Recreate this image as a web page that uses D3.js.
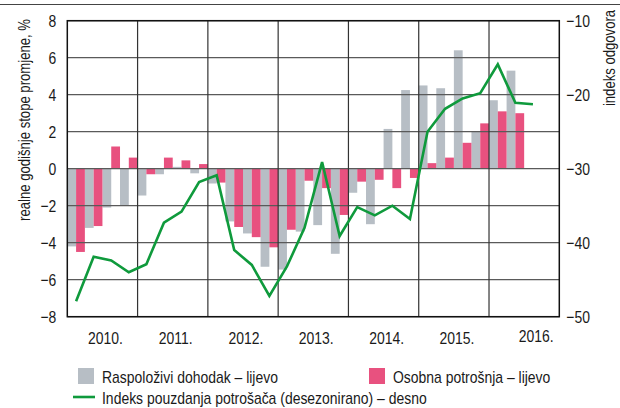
<!DOCTYPE html>
<html>
<head>
<meta charset="utf-8">
<script src="https://cdn.jsdelivr.net/npm/d3@7"></script>
<style>
  body { margin: 0; background: #fff; }
  text { font-family: "Liberation Sans Narrow", "Arial Narrow", "Liberation Sans", Arial, sans-serif; fill: #1a1a1a; }
</style>
</head>
<body>
<div id="chart"></div>
<script>
// quarterly data, 2010 Q1 onwards
const years = ["2010.", "2011.", "2012.", "2013.", "2014.", "2015.", "2016."];

// Raspoloživi dohodak (left axis), 2010 Q1 - 2016 Q2
const income = [
  -4.2, -3.2, -2.1, -2.0,
  -1.45, -0.3, 0.1, -0.25,
  -0.8, -2.85, -3.5, -5.3,
  -5.45, -3.4, -3.05, -4.6,
  -1.3, -3.0, 2.15, 4.25,
  4.5, 4.35, 6.4, 2.0,
  3.7, 5.3
];

// Osobna potrošnja (left axis), 2010 Q1 - 2016 Q2
const consumption = [
  -4.5, -3.1, 1.2, 0.6,
  -0.3, 0.6, 0.45, 0.25,
  -0.75, -3.15, -3.7, -4.25,
  -3.3, -0.65, -1.05, -2.5,
  -0.7, -0.6, -1.05, -0.5,
  0.3, 0.6, 1.4, 2.45,
  3.1, 3.0
];

// Indeks pouzdanja potrošača (right axis), 2010 Q1 - 2016 Q3
const confidence = [
  -47.9, -41.9, -42.4, -44.0,
  -42.9, -37.3, -35.8, -31.8,
  -30.9, -41.0, -43.0, -47.2,
  -43.2, -38.0, -29.1, -39.1,
  -35.2, -36.3, -35.0, -36.8,
  -25.0, -21.9, -20.5, -19.8,
  -15.9, -21.1, -21.3
];

const leftTicks = [8, 6, 4, 2, 0, -2, -4, -6, -8];
const rightTicks = [-10, -20, -30, -40, -50];

// SVG definitions
const margin = {top: 20.7, right: 60.7, bottom: 91.3, left: 67.3};
const width = 620 - margin.left - margin.right;
const height = 408 - margin.top - margin.bottom;

const grey = "#b7bec5";
const pink = "#e8517f";
const green = "#0f9a3c";

const svg = d3.select("#chart").append("svg")
  .attr("width", 620)
  .attr("height", 408);

// thin rule along the top of the figure
svg.append("line")
  .attr("x1", 0).attr("x2", 620)
  .attr("y1", 4.5).attr("y2", 4.5)
  .attr("stroke", "#444")
  .attr("stroke-width", 1.2);

const g = svg.append("g")
  .attr("transform", `translate(${margin.left}, ${margin.top})`);

// scales: x runs over quarter index
const xScale = d3.scaleLinear()
  .domain([0, years.length * 4])
  .range([0, width]);

const yLeft = d3.scaleLinear()
  .domain([-8, 8])
  .range([height, 0]);

const yRight = d3.scaleLinear()
  .domain([-50, -10])
  .range([height, 0]);

const half = xScale(0.5) - xScale(0);

// bars: grey on the first half of the quarter, pink on the second half
g.selectAll(".bar-income")
  .data(income)
  .join("rect")
  .attr("class", "bar-income")
  .attr("x", (d, i) => xScale(i))
  .attr("width", half)
  .attr("y", d => yLeft(Math.max(0, d)))
  .attr("height", d => Math.abs(yLeft(d) - yLeft(0)))
  .attr("fill", grey);

g.selectAll(".bar-cons")
  .data(consumption)
  .join("rect")
  .attr("class", "bar-cons")
  .attr("x", (d, i) => xScale(i + 0.5))
  .attr("width", half)
  .attr("y", d => yLeft(Math.max(0, d)))
  .attr("height", d => Math.abs(yLeft(d) - yLeft(0)))
  .attr("fill", pink);

// horizontal gridlines
g.selectAll(".hgrid")
  .data(leftTicks)
  .join("line")
  .attr("class", "hgrid")
  .attr("x1", 0).attr("x2", width)
  .attr("y1", d => yLeft(d)).attr("y2", d => yLeft(d))
  .attr("stroke", "#5a5a5a")
  .attr("stroke-width", 1.3);

// vertical year separators
g.selectAll(".vgrid")
  .data(d3.range(1, years.length))
  .join("line")
  .attr("class", "vgrid")
  .attr("x1", d => xScale(d * 4)).attr("x2", d => xScale(d * 4))
  .attr("y1", 0).attr("y2", height)
  .attr("stroke", "#333")
  .attr("stroke-width", 1.2);

// confidence index line, points in the middle of each quarter
const line = d3.line()
  .x((d, i) => xScale(i + 0.5))
  .y(d => yRight(d));

g.append("path")
  .datum(confidence)
  .attr("fill", "none")
  .attr("stroke", green)
  .attr("stroke-width", 2.6)
  .attr("stroke-linejoin", "miter")
  .attr("d", line);

// frame
g.append("rect")
  .attr("width", width)
  .attr("height", height)
  .attr("fill", "none")
  .attr("stroke", "#111")
  .attr("stroke-width", 1.5);

// left axis labels
const fmt = d3.format("d");
g.selectAll(".ltick")
  .data(leftTicks)
  .join("text")
  .attr("class", "ltick squeeze")
  .attr("x", -11)
  .attr("y", d => yLeft(d))
  .attr("dy", "0.36em")
  .attr("text-anchor", "end")
  .attr("font-size", "17px")
  .text(d => fmt(d));

// right axis labels
g.selectAll(".rtick")
  .data(rightTicks)
  .join("text")
  .attr("class", "rtick squeeze")
  .attr("x", width + 7)
  .attr("y", d => yRight(d))
  .attr("dy", "0.36em")
  .attr("text-anchor", "start")
  .attr("font-size", "17px")
  .text(d => fmt(d));

// year labels under each year
g.selectAll(".year")
  .data(years)
  .join("text")
  .attr("class", "year squeeze")
  .attr("x", (d, i) => xScale(i * 4 + 2) + (i === years.length - 1 ? 12 : 3))
  .attr("y", (d, i) => height + (i === years.length - 1 ? 25 : 27))
  .attr("text-anchor", "middle")
  .attr("font-size", "17px")
  .text(d => d);

// axis titles (rotated, narrowed with a scale on the transform)
svg.append("text")
  .attr("transform", "translate(30, 120) rotate(-90) scale(0.82, 1)")
  .attr("text-anchor", "middle")
  .attr("font-size", "16px")
  .text("realne godišnje stope promjene, %");

svg.append("text")
  .attr("transform", "translate(615, 58) rotate(-90) scale(0.82, 1)")
  .attr("text-anchor", "middle")
  .attr("font-size", "16px")
  .text("indeks odgovora");

// legend
const legend = svg.append("g");

legend.append("rect")
  .attr("x", 78).attr("y", 368)
  .attr("width", 16).attr("height", 16)
  .attr("fill", grey);
legend.append("text")
  .attr("class", "squeeze")
  .attr("x", 102).attr("y", 383)
  .attr("font-size", "17px")
  .text("Raspoloživi dohodak – lijevo");

legend.append("rect")
  .attr("x", 369).attr("y", 368)
  .attr("width", 16).attr("height", 16)
  .attr("fill", pink);
legend.append("text")
  .attr("class", "squeeze")
  .attr("x", 393).attr("y", 383)
  .attr("font-size", "17px")
  .text("Osobna potrošnja – lijevo");

legend.append("line")
  .attr("x1", 73).attr("x2", 95)
  .attr("y1", 397).attr("y2", 397)
  .attr("stroke", green)
  .attr("stroke-width", 2.6);
legend.append("text")
  .attr("class", "squeeze")
  .attr("x", 102).attr("y", 404)
  .attr("font-size", "17px")
  .text("Indeks pouzdanja potrošača (desezonirano) – desno");

// the original uses a condensed face: squeeze the horizontal labels
svg.selectAll("text.squeeze").each(function() {
  const w = this.getComputedTextLength();
  d3.select(this)
    .attr("textLength", w * 0.82)
    .attr("lengthAdjust", "spacingAndGlyphs");
});
</script>
</body>
</html>
